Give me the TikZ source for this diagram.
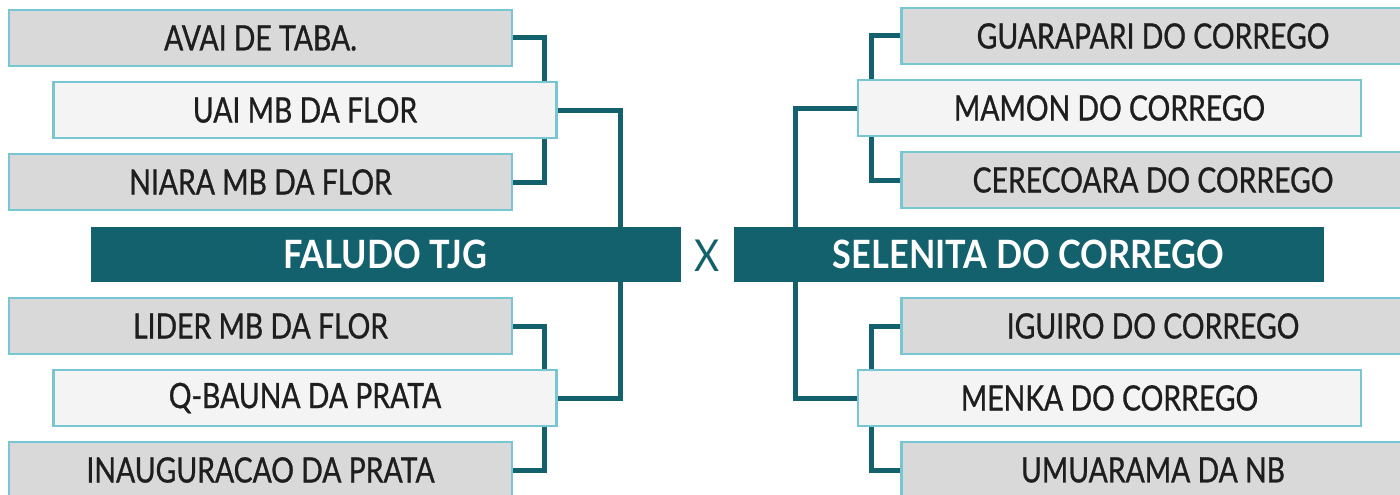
\documentclass[tikz,border=0pt]{standalone}
\usepackage{fontspec}
\setmainfont[FakeStretch=0.81, FakeBold=0.8]{Lato}
\newfontfamily\barfont[FakeStretch=0.88]{Lato}
\usetikzlibrary{backgrounds}

\definecolor{teamteal}{HTML}{14616E}
\definecolor{boxgray}{HTML}{D9D9D9}
\definecolor{boxwhite}{HTML}{F4F4F4}
\definecolor{boxedge}{HTML}{78C5D3}
\definecolor{teamtext}{HTML}{1E1E1E}

\begin{document}
\begin{tikzpicture}[x=1pt, y=-1pt,
    team/.style={draw=boxedge, line width=2.5pt, minimum width=503pt, minimum height=56pt,
                 inner sep=0pt, text=teamtext, font=\fontsize{35}{35}\selectfont},
    grayteam/.style={team, fill=boxgray},
    whiteteam/.style={team, fill=boxwhite},
    finalist/.style={fill=teamteal, minimum width=590pt, minimum height=55pt, inner sep=0pt,
                     text=white, font=\barfont\bfseries\fontsize{39}{39}\selectfont},
    link/.style={draw=teamteal, line width=5pt}]
        % --- 1. Canvas ---
        \useasboundingbox (0,0) rectangle (1400,495);
        \clip (0,0) rectangle (1400,495);

        % --- 2. Left bracket ---
        \node[grayteam]  (avai)    at (260.5,38)  {AVAI DE TABA.};
        \node[whiteteam] (uai)     at (305,110)   {UAI MB DA FLOR};
        \node[grayteam]  (niara)   at (260.5,182) {NIARA MB DA FLOR};
        \node[finalist]  (faludo)  at (385.5,254.5) {FALUDO TJG};
        \node[grayteam]  (lider)   at (260.5,326) {LIDER MB DA FLOR};
        \node[whiteteam] (qbauna)  at (305,398)   {Q-BAUNA DA PRATA};
        \node[grayteam]  (inaug)   at (260.5,470) {INAUGURACAO DA PRATA};

        % --- 3. Right bracket ---
        \node[grayteam]  (guarapari) at (1153,36)  {GUARAPARI DO CORREGO};
        \node[whiteteam] (mamon)     at (1109.5,108) {MAMON DO CORREGO};
        \node[grayteam]  (cerecoara) at (1153,180) {CERECOARA DO CORREGO};
        \node[finalist]  (selenita)  at (1028.5,254.5) {SELENITA DO CORREGO};
        \node[grayteam]  (iguiro)    at (1153,326) {IGUIRO DO CORREGO};
        \node[whiteteam] (menka)     at (1109.5,398) {MENKA DO CORREGO};
        \node[grayteam]  (umuarama)  at (1153,470) {UMUARAMA DA NB};

        % versus mark
        \node[text=teamteal, font=\barfont\fontsize{44}{44}\selectfont] (versus) at (707,256) {X};

        % --- 4. Connectors ---
        \coordinate (jl1) at (544,0);
        \coordinate (jl2) at (620,0);
        \coordinate (jr1) at (871,0);
        \coordinate (jr2) at (795,0);
        \begin{scope}[on background layer]
            \draw[link] (avai.east)  -| (jl1 |- uai.north);
            \draw[link] (niara.east) -| (jl1 |- uai.south);
            \draw[link] (lider.east) -| (jl1 |- qbauna.north);
            \draw[link] (inaug.east) -| (jl1 |- qbauna.south);
            \draw[link] (uai.east)    -| (jl2 |- faludo.north);
            \draw[link] (qbauna.east) -| (jl2 |- faludo.south);

            \draw[link] (guarapari.west) -| (jr1 |- mamon.north);
            \draw[link] (cerecoara.west) -| (jr1 |- mamon.south);
            \draw[link] (iguiro.west)    -| (jr1 |- menka.north);
            \draw[link] (umuarama.west)  -| (jr1 |- menka.south);
            \draw[link] (mamon.west) -| (jr2 |- selenita.north);
            \draw[link] (menka.west) -| (jr2 |- selenita.south);
        \end{scope}
    \end{tikzpicture}
\end{document}
